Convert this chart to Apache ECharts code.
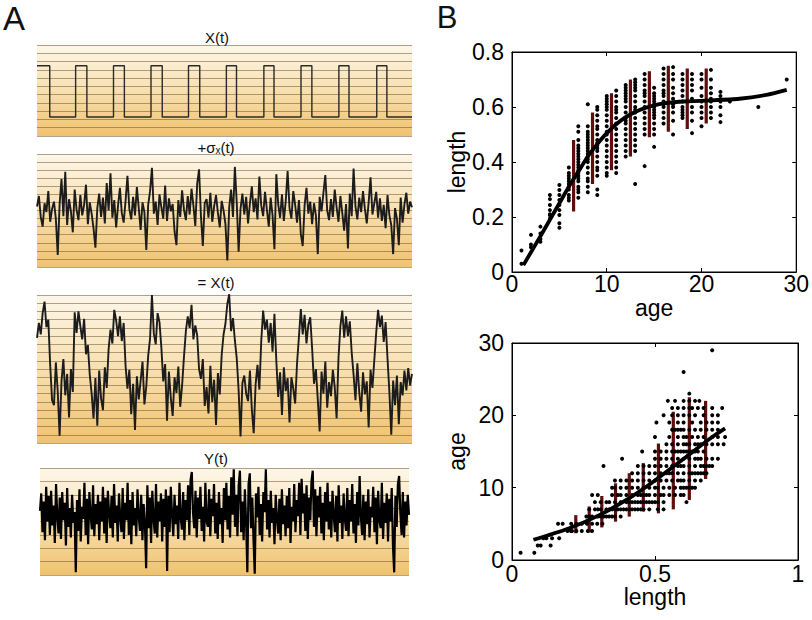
<!DOCTYPE html>
<html>
<head>
<meta charset="utf-8">
<script src="https://cdn.jsdelivr.net/npm/echarts@6/dist/echarts.min.js"></script>
<style>html,body{margin:0;padding:0;background:#fff}#c{width:812px;height:620px}</style>
</head>
<body>
<div id="c"></div>
<script>
// ---------- Panel A data ----------
const squareFall = [3.4, 13.3, 23.3, 33.4, 43.4, 53.2, 63.2, 73.3, 83.2, 93.3];
const squareRise = [10.3, 20.4, 30.4, 40.4, 50.5, 60.5, 70.4, 80.5, 90.6];
const squareHigh = 8.5;
const squareLow = 2.3;

const noiseSigma = [
 7.5, 8.8, 6.2, 5.0, 7.9, 6.8, 9.4, 5.6, 7.2, 8.1,
 6.0, 1.5, 7.8, 10.9, 6.3, 11.8, 5.2, 8.4, 6.9, 4.3,
 9.6, 7.1, 5.8, 8.9, 6.4, 7.7, 10.2, 5.3, 8.0, 6.6,
 4.8, 2.4, 7.3, 9.1, 6.2, 8.6, 5.4, 10.4, 7.0, 11.6,
 6.1, 8.3, 4.9, 7.6, 9.8, 6.7, 5.5, 8.2, 11.3, 7.2,
 5.9, 8.7, 6.4, 9.9, 7.3, 4.6, 8.0, 6.8, 2.1, 7.7,
 9.4, 12.3, 6.6, 8.1, 5.2, 9.0, 7.4, 6.0, 10.1, 5.7,
 8.5, 6.9, 7.8, 4.4, 2.7, 8.3, 6.2, 9.5, 7.1, 5.8,
 8.8, 6.5, 9.7, 7.6, 5.1, 10.3, 12.1, 6.3, 2.6, 7.9,
 8.4, 6.1, 9.2, 5.6, 7.5, 8.9, 6.7, 4.9, 8.2, 7.0,
 5.3, 0.8, 7.4, 9.6, 6.2, 12.4, 8.0, 1.9, 7.2, 9.1,
 6.5, 8.7, 5.4, 7.9, 10.0, 6.8, 8.5, 5.9, 11.2, 7.6,
 6.3, 9.3, 7.1, 5.0, 8.6, 6.4, 2.2, 11.5, 7.8, 6.1,
 9.0, 5.7, 8.2, 11.9, 7.3, 6.0, 9.4, 7.7, 5.5, 8.3,
 4.1, 2.6, 7.6, 9.8, 6.6, 8.1, 5.3, 7.9, 6.4, 1.6,
 8.7, 6.9, 9.2, 11.4, 7.0, 5.8, 8.4, 6.2, 9.6, 7.4,
 5.6, 8.8, 6.7, 4.5, 7.8, 2.3, 9.1, 6.3, 12.2, 7.5,
 5.9, 8.6, 6.8, 9.4, 7.2, 5.4, 8.0, 11.1, 6.5, 7.9,
 9.3, 6.1, 8.5, 5.7, 7.7, 4.8, 8.9, 6.4, 5.2, 1.6,
 7.3, 6.0, 2.7, 8.6, 5.5, 7.8, 9.2, 6.6, 8.1, 7.4
];

const noisyX = [
 12.8, 14.6, 13.2, 15.8, 17.2, 14.1, 15.0, 9.5, 5.2, 4.6,
 9.8, 6.3, 0.9, 7.5, 10.2, 5.8, 8.4, 3.1, 9.0, 6.2,
 15.9, 13.4, 16.0, 14.2, 12.6, 15.1, 10.8, 11.9, 8.3, 6.0,
 3.0, 7.9, 2.1, 8.8, 5.4, 4.0, 9.2, 6.7, 11.4, 13.8,
 12.1, 16.2, 14.9, 13.0, 15.4, 12.4, 14.6, 9.4, 6.6, 8.9,
 3.5, 7.2, 1.6, 8.1, 5.3, 7.6, 9.9, 4.7, 6.9, 10.6,
 12.7, 18.0, 13.3, 12.0, 15.8, 14.7, 11.6, 7.5, 9.6, 2.7,
 8.7, 5.5, 3.3, 8.0, 6.1, 9.3, 4.4, 7.0, 10.5, 13.6,
 15.4, 14.0, 16.8, 12.6, 14.3, 13.1, 9.0, 7.8, 10.2, 4.5,
 6.8, 3.6, 9.4, 5.0, 7.7, 2.2, 8.5, 5.9, 10.7, 13.2,
 14.5, 16.9, 18.1, 13.6, 15.2, 12.5, 10.3, 6.4, 0.8, 7.3,
 8.2, 6.0, 5.1, 8.8, 4.1, 1.2, 7.1, 9.5, 6.5, 12.4,
 16.1, 13.8, 15.0, 12.2, 14.6, 11.1, 15.7, 10.0, 5.6, 8.6,
 3.4, 9.2, 6.3, 7.9, 2.5, 8.0, 6.6, 4.8, 9.7, 12.9,
 16.3, 13.2, 15.6, 12.1, 14.4, 15.3, 11.5, 7.2, 9.0, 5.3,
 1.4, 8.7, 6.0, 9.9, 4.3, 7.4, 5.7, 8.9, 6.8, 3.0,
 10.4, 14.2, 16.1, 12.8, 15.4, 13.0, 14.8, 11.0, 8.3, 5.2,
 9.7, 6.2, 3.8, 8.6, 5.9, 7.5, 1.9, 8.9, 6.7, 10.1,
 13.4, 16.2, 14.1, 15.5, 12.3, 14.7, 10.3, 6.2, 1.0, 7.6,
 4.6, 8.2, 2.3, 7.4, 5.8, 8.8, 6.4, 9.1, 7.0, 8.4
];

const outputY = [
 4.8, 6.1, 3.2, 5.5, 2.6, 6.6, 4.0, 5.9, 3.0, 6.3,
 3.7, 5.2, 2.4, 6.8, 4.4, 3.1, 5.8, 2.7, 6.2, 4.1,
 5.4, 2.2, 6.5, 3.6, 5.0, 2.8, 6.0, 3.9, 4.7, 0.2,
 5.6, 3.3, 6.4, 2.5, 5.1, 4.2, 6.9, 3.0, 5.7, 2.3,
 6.2, 4.5, 3.4, 6.7, 2.9, 5.3, 3.8, 6.0, 2.6, 5.5,
 4.0, 6.6, 3.1, 5.8, 2.4, 6.3, 4.6, 3.5, 5.9, 2.8,
 6.8, 3.9, 5.2, 2.5, 6.1, 4.3, 3.2, 6.5, 2.7, 5.4,
 4.1, 6.9, 3.0, 5.6, 2.3, 6.2, 3.7, 5.0, 2.9, 6.4,
 4.4, 3.3, 6.0, 2.6, 5.3, 3.9, 0.5, 6.7, 3.5, 5.8,
 2.4, 6.3, 4.2, 3.1, 6.8, 2.8, 5.5, 4.0, 6.1, 2.5,
 5.7, 3.6, 6.4, 0.3, 5.9, 3.2, 6.6, 4.5, 2.9, 6.0,
 3.8, 5.2, 2.7, 6.9, 4.3, 3.4, 6.2, 2.6, 5.6, 4.1,
 6.7, 3.0, 7.1, 7.7, 4.6, 3.5, 6.3, 2.8, 5.8, 4.2,
 6.6, 3.3, 5.1, 2.5, 6.9, 4.0, 3.6, 6.4, 2.9, 5.7,
 4.4, 6.8, 3.1, 5.4, 2.7, 6.2, 3.8, 5.0, 2.4, 6.5,
 4.1, 6.9, 3.4, 5.9, 2.8, 7.3, 4.5, 7.9, 3.6, 6.0,
 2.9, 6.7, 7.8, 3.2, 5.5, 2.6, 6.4, 4.0, 0.2, 6.8,
 7.6, 3.5, 5.8, 2.7, 0.1, 6.1, 4.3, 6.6, 3.0, 5.3,
 2.5, 6.2, 4.7, 7.9, 3.4, 5.6, 2.8, 6.3, 3.9, 5.0,
 2.3, 6.0, 4.2, 3.1, 5.7, 2.6, 6.4, 3.8, 5.2, 2.9,
 5.9, 3.5, 6.5, 2.4, 5.1, 4.0, 6.8, 3.2, 5.6, 4.4,
 6.9, 3.0, 7.2, 4.6, 6.1, 3.3, 6.7, 2.7, 5.8, 4.1,
 7.0, 7.8, 3.6, 6.4, 2.9, 5.9, 4.3, 6.6, 3.1, 5.4,
 2.6, 6.2, 4.0, 6.9, 3.4, 5.5, 2.8, 6.3, 4.5, 3.2,
 5.9, 2.5, 6.7, 3.9, 5.2, 2.7, 6.1, 4.2, 3.3, 6.5,
 2.9, 5.6, 4.0, 6.8, 3.1, 5.3, 2.4, 6.2, 3.7, 7.4,
 4.4, 3.0, 6.0, 2.6, 5.5, 3.8, 6.4, 2.8, 5.1, 4.3,
 6.6, 3.2, 5.8, 2.3, 6.3, 4.1, 3.5, 6.9, 2.7, 5.4,
 3.9, 6.1, 2.5, 5.7, 4.0, 6.5, 2.2, 0.2, 5.9, 3.6,
 6.8, 7.4, 4.6, 3.0, 6.2, 2.8, 5.5, 3.7, 6.0, 4.5
];

// ---------- Panel B data ----------
const ageGroups = [1, 2, 3, 4, 5, 6, 7, 8, 9, 10, 11, 12, 13, 14, 15, 16, 17, 18, 19, 20, 21, 22, 23, 26, 29];
const lengthGroups = [
 [0.078, 0.03],
 [0.10, 0.135, 0.09],
 [0.12, 0.14, 0.165, 0.11],
 [0.28, 0.265, 0.244, 0.225, 0.206, 0.194, 0.21],
 [0.316, 0.298, 0.28, 0.262, 0.244, 0.225, 0.207, 0.177, 0.161],
 [0.38, 0.36, 0.35, 0.34, 0.33, 0.32, 0.31, 0.30, 0.28, 0.27, 0.26],
 [0.53, 0.51, 0.48, 0.46, 0.45, 0.44, 0.43, 0.42, 0.41, 0.40, 0.39, 0.38, 0.37, 0.36, 0.35, 0.34, 0.33, 0.31, 0.30, 0.29, 0.27],
 [0.61, 0.53, 0.51, 0.50, 0.49, 0.48, 0.47, 0.46, 0.45, 0.44, 0.43, 0.42, 0.41, 0.40, 0.38, 0.36, 0.34, 0.33, 0.31, 0.29],
 [0.60, 0.59, 0.57, 0.55, 0.53, 0.52, 0.50, 0.48, 0.47, 0.46, 0.45, 0.44, 0.42, 0.40, 0.38, 0.37, 0.35, 0.30, 0.28],
 [0.64, 0.63, 0.62, 0.61, 0.60, 0.59, 0.57, 0.55, 0.53, 0.51, 0.50, 0.48, 0.46, 0.44, 0.42, 0.40, 0.38, 0.36, 0.35],
 [0.66, 0.64, 0.62, 0.60, 0.59, 0.58, 0.56, 0.54, 0.52, 0.50, 0.48, 0.46, 0.44, 0.42, 0.40, 0.38, 0.36],
 [0.68, 0.67, 0.66, 0.65, 0.64, 0.63, 0.62, 0.60, 0.58, 0.56, 0.55, 0.54, 0.52, 0.50, 0.48, 0.46, 0.44, 0.42],
 [0.70, 0.69, 0.68, 0.67, 0.66, 0.64, 0.62, 0.60, 0.59, 0.58, 0.56, 0.54, 0.52, 0.50, 0.48, 0.46, 0.44, 0.32],
 [0.72, 0.70, 0.68, 0.66, 0.65, 0.64, 0.62, 0.60, 0.58, 0.56, 0.54, 0.52, 0.50, 0.385],
 [0.67, 0.65, 0.64, 0.63, 0.62, 0.61, 0.60, 0.59, 0.58, 0.57, 0.56, 0.54, 0.52, 0.50, 0.455],
 [0.74, 0.72, 0.70, 0.68, 0.66, 0.65, 0.64, 0.62, 0.61, 0.60, 0.58, 0.56, 0.54],
 [0.745, 0.72, 0.70, 0.67, 0.65, 0.63, 0.61, 0.60, 0.58, 0.55, 0.50],
 [0.72, 0.70, 0.68, 0.66, 0.64, 0.62, 0.60, 0.59, 0.58, 0.57, 0.56],
 [0.72, 0.70, 0.68, 0.66, 0.63, 0.60, 0.58, 0.55, 0.505],
 [0.72, 0.70, 0.67, 0.64, 0.62, 0.60, 0.58, 0.56, 0.53],
 [0.735, 0.70, 0.67, 0.65, 0.63, 0.62, 0.60, 0.58, 0.56],
 [0.655, 0.64, 0.62, 0.60, 0.57, 0.545],
 [0.62],
 [0.60],
 [0.70]
];

const topBarAge = [6.5, 8.5, 10.5, 12.5, 14.5, 16.5, 18.5, 20.5];
const topBarLow = [0.22, 0.32, 0.37, 0.42, 0.49, 0.51, 0.52, 0.54];
const topBarHigh = [0.48, 0.58, 0.65, 0.70, 0.73, 0.75, 0.74, 0.74];

const topCurveAge = [1.2, 3, 5, 6, 7, 8, 9, 10, 11, 12, 13, 14, 15, 16, 18, 21, 24, 27, 29];
const topCurveLength = [0.025, 0.13, 0.25, 0.31, 0.365, 0.42, 0.465, 0.505, 0.537, 0.563, 0.582, 0.596, 0.606, 0.613, 0.62, 0.624, 0.63, 0.645, 0.662];

const botBarLength = [0.223, 0.270, 0.314, 0.362, 0.41, 0.459, 0.512, 0.564, 0.62, 0.677];
const botBarLow = [3.7, 3.8, 4.5, 5.3, 6.0, 6.7, 6.45, 7.0, 8.3, 11.2];
const botBarHigh = [6.2, 7.4, 8.85, 10.6, 12.0, 13.4, 16.1, 20.5, 22.5, 22.0];

const botCurveLength = [0.075, 0.2, 0.3, 0.4, 0.5, 0.6, 0.7, 0.745];
const botCurveAge = [2.8, 4.4, 6.1, 8.3, 11.0, 14.0, 17.0, 18.2];

// ---------- build ----------
const FONT = 'Liberation Sans, Arial, Helvetica, sans-serif';
const squareData = [[0, squareHigh]];
for (let i = 0; i < squareFall.length; i++) {
  squareData.push([squareFall[i], squareHigh], [squareFall[i], squareLow]);
  if (i < squareRise.length) squareData.push([squareRise[i], squareLow], [squareRise[i], squareHigh]);
}
squareData.push([100, squareLow]);

const idx = arr => arr.map((v, i) => [i, v]);

const scatterTop = [], scatterBot = [];
ageGroups.forEach((a, gi) => lengthGroups[gi].forEach(l => { scatterTop.push([a, l]); scatterBot.push([l, a]); }));

const topBars = topBarAge.map((a, i) => [a, topBarLow[i], topBarHigh[i]]);
const botBars = botBarLength.map((l, i) => [l, botBarLow[i], botBarHigh[i]]);
const topCurve = topCurveAge.map((a, i) => [a, topCurveLength[i]]);
const botCurve = botCurveLength.map((l, i) => [l, botCurveAge[i]]);

const bg = {type: 'linear', x: 0, y: 0, x2: 0, y2: 1, colorStops: [
  {offset: 0, color: '#fdf7ea'}, {offset: 0.55, color: '#f7ddaa'}, {offset: 1, color: '#f0c26e'}]};

const stripGrids = [
  {left: 37, top: 45, width: 375, height: 91},
  {left: 37, top: 154, width: 375, height: 113},
  {left: 37, top: 295, width: 375, height: 148},
  {left: 40, top: 468, width: 369, height: 107}
];
const stripMax = [11, 14, 18, 8];
const stripXMax = [100, noiseSigma.length - 1, noisyX.length - 1, outputY.length - 1];

const grids = stripGrids.map(g => Object.assign({show: true, backgroundColor: bg, borderWidth: 0}, g));
grids.push({left: 512, top: 52, width: 286, height: 220, show: true, borderColor: '#000', borderWidth: 1, backgroundColor: 'transparent'});
grids.push({left: 512, top: 343, width: 286, height: 217, show: true, borderColor: '#000', borderWidth: 1, backgroundColor: 'transparent'});

const xAxes = stripGrids.map((g, i) => ({gridIndex: i, type: 'value', min: 0, max: stripXMax[i], show: false}));
const yAxes = stripGrids.map((g, i) => ({
  gridIndex: i, type: 'value', min: 0, max: stripMax[i], interval: 1,
  axisLine: {show: false}, axisTick: {show: false}, axisLabel: {show: false},
  splitLine: {show: true, lineStyle: {color: 'rgba(115,90,50,0.55)', width: 1}}
}));

const axisCommon = {
  axisLine: {show: true, onZero: false, lineStyle: {color: '#000', width: 1}},
  axisTick: {show: true, inside: true, length: 4, lineStyle: {color: '#000'}},
  splitLine: {show: false}
};
const labelStyle = {fontSize: 23, color: '#000', fontFamily: FONT};
function bAxis(extra, showLabel, margin) {
  return Object.assign({}, axisCommon, {
    type: 'value',
    axisLabel: showLabel ? Object.assign({margin: margin}, labelStyle) : {show: false},
    nameTextStyle: labelStyle
  }, extra);
}
// top B
xAxes.push(bAxis({gridIndex: 4, position: 'bottom', min: 0, max: 30, interval: 10, name: 'age', nameLocation: 'middle', nameGap: 24}, true, 0));
xAxes.push(bAxis({gridIndex: 4, position: 'top', min: 0, max: 30, interval: 10}, false));
yAxes.push(bAxis({gridIndex: 4, position: 'left', min: 0, max: 0.8, interval: 0.2, name: 'length', nameLocation: 'middle', nameGap: 44}, true, 8));
yAxes.push(bAxis({gridIndex: 4, position: 'right', min: 0, max: 0.8, interval: 0.2}, false));
// bottom B
xAxes.push(bAxis({gridIndex: 5, position: 'bottom', min: 0, max: 1, interval: 0.5, name: 'length', nameLocation: 'middle', nameGap: 18}, true, 2));
xAxes.push(bAxis({gridIndex: 5, position: 'top', min: 0, max: 1, interval: 0.5}, false));
yAxes.push(bAxis({gridIndex: 5, position: 'left', min: 0, max: 30, interval: 10, name: 'age', nameLocation: 'middle', nameGap: 44}, true, 8));
yAxes.push(bAxis({gridIndex: 5, position: 'right', min: 0, max: 30, interval: 10}, false));

function barRender(params, api) {
  const p1 = api.coord([api.value(0), api.value(1)]);
  const p2 = api.coord([api.value(0), api.value(2)]);
  return {type: 'line', shape: {x1: p1[0], y1: p1[1], x2: p2[0], y2: p2[1]},
    style: {stroke: '#620c0c', lineWidth: 3.2}};
}

const traceStyle = (w, c) => ({type: 'line', showSymbol: false, symbol: 'none', silent: true,
  lineStyle: {color: c, width: w}, animation: false});

const dotStyle = {color: '#000', opacity: 1};
const series = [
  Object.assign(traceStyle(1.4, '#2a2a2a'), {xAxisIndex: 0, yAxisIndex: 0, data: squareData}),
  Object.assign(traceStyle(1.9, '#1c1c1c'), {xAxisIndex: 1, yAxisIndex: 1, data: idx(noiseSigma)}),
  Object.assign(traceStyle(1.9, '#1c1c1c'), {xAxisIndex: 2, yAxisIndex: 2, data: idx(noisyX)}),
  Object.assign(traceStyle(2.2, '#000'), {xAxisIndex: 3, yAxisIndex: 3, data: idx(outputY)}),
  {type: 'scatter', xAxisIndex: 4, yAxisIndex: 4, data: scatterTop, symbolSize: 4, itemStyle: dotStyle, silent: true},
  {type: 'custom', xAxisIndex: 4, yAxisIndex: 4, data: topBars, renderItem: barRender, encode: {x: 0, y: [1, 2]}, silent: true},
  Object.assign(traceStyle(3.8, '#000'), {xAxisIndex: 4, yAxisIndex: 4, data: topCurve, smooth: 0.2}),
  {type: 'scatter', xAxisIndex: 6, yAxisIndex: 6, data: scatterBot, symbolSize: 4, itemStyle: dotStyle, silent: true},
  {type: 'custom', xAxisIndex: 6, yAxisIndex: 6, data: botBars, renderItem: barRender, encode: {x: 0, y: [1, 2]}, silent: true},
  Object.assign(traceStyle(3.8, '#000'), {xAxisIndex: 6, yAxisIndex: 6, data: botCurve, smooth: 0.3})
];

const titleText = (text, left, top, size, rich) => ({
  text: text, left: left, top: top, textAlign: 'center', padding: 0,
  textStyle: {fontFamily: FONT, fontSize: size, fontWeight: 'normal', color: '#111', rich: rich || {}}
});
const subRich = {sub: {fontFamily: FONT, fontSize: 10, color: '#111', verticalAlign: 'bottom', padding: [6, 0, 0, 0]}};
const titles = [
  titleText('A', 14, 2, 33),
  titleText('B', 447, 2, 31),
  titleText('X(t)', 217, 30, 15),
  titleText('+σ{sub|x}(t)', 216, 139, 15, subRich),
  titleText('= X(t)', 216, 275, 15),
  titleText('Y(t)', 216, 451, 15)
];

const chart = echarts.init(document.getElementById('c'), null, {renderer: 'svg', width: 812, height: 620});
chart.setOption({
  animation: false,
  backgroundColor: '#fff',
  title: titles,
  grid: grids,
  xAxis: xAxes,
  yAxis: yAxes,
  series: series
});
</script>
</body>
</html>
